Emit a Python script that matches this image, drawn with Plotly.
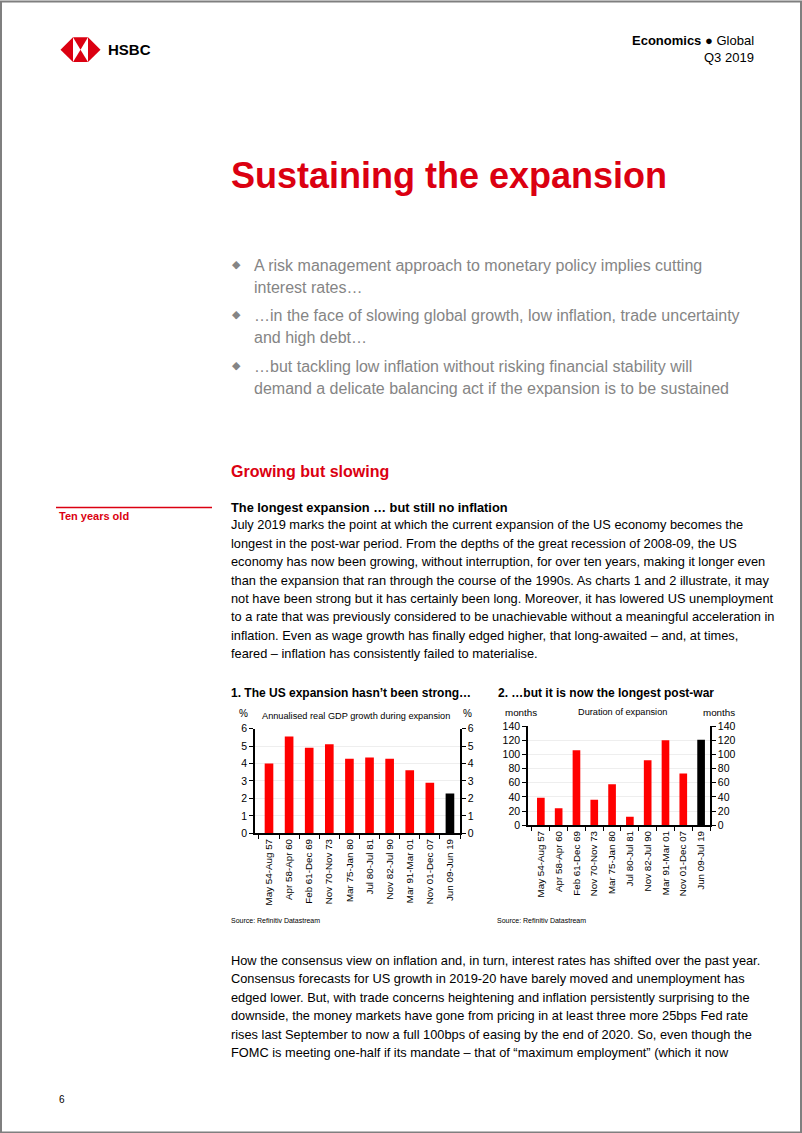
import plotly.graph_objects as go

W = 802
K = 0.9886           # vertical factor observed in the photographed page
H = 1146             # figure height so that the photographed page is 1133 tall
def X(px): return px / W
def Y(py): return 1 - (py / K) / H

# ---------------- data ----------------
periods_1 = ["May 54-Aug 57", "Apr 58-Apr 60", "Feb 61-Dec 69", "Nov 70-Nov 73", "Mar 75-Jan 80",
             "Jul 80-Jul 81", "Nov 82-Jul 90", "Mar 91-Mar 01", "Nov 01-Dec 07", "Jun 09-Jun 19"]
gdp_growth = [4.0, 5.55, 4.9, 5.1, 4.27, 4.35, 4.27, 3.62, 2.9, 2.28]

periods_2 = ["May 54-Aug 57", "Apr 58-Apr 60", "Feb 61-Dec 69", "Nov 70-Nov 73", "Mar 75-Jan 80",
             "Jul 80-Jul 81", "Nov 82-Jul 90", "Mar 91-Mar 01", "Nov 01-Dec 07", "Jun 09-Jul 19"]
duration_months = [39, 24, 106, 36, 58, 12, 92, 120, 73, 121]

ticks_1 = [0, 1, 2, 3, 4, 5, 6]
ticks_2 = [0, 20, 40, 60, 80, 100, 120, 140]

RED = "#ff0000"
HSBC_RED = "#db0011"
colors_1 = [RED] * (len(gdp_growth) - 1) + ["#000000"]
colors_2 = [RED] * (len(duration_months) - 1) + ["#000000"]

ARIAL = "Liberation Sans, Arial, sans-serif"

fig = go.Figure()
fig.add_trace(go.Bar(x=periods_1, y=gdp_growth, marker_color=colors_1, marker_line_width=0,
                     xaxis="x", yaxis="y", hoverinfo="skip"))
fig.add_trace(go.Scatter(x=[periods_1[0]], y=[ticks_1[0]], mode="markers", marker_opacity=0,
                         xaxis="x", yaxis="y2", hoverinfo="skip"))
fig.add_trace(go.Bar(x=periods_2, y=duration_months, marker_color=colors_2, marker_line_width=0,
                     xaxis="x2", yaxis="y3", hoverinfo="skip"))
fig.add_trace(go.Scatter(x=[periods_2[0]], y=[ticks_2[0]], mode="markers", marker_opacity=0,
                         xaxis="x2", yaxis="y4", hoverinfo="skip"))

def xax(domain, anchor):
    return dict(domain=domain, anchor=anchor, type="category", showline=True, linecolor="black",
                linewidth=1.5, ticks="outside", tickson="boundaries", ticklen=4, tickcolor="black",
                tickwidth=1.2, tickangle=-90, tickfont=dict(family=ARIAL, size=9.8, color="black"),
                showgrid=False, zeroline=False, fixedrange=True)

def yax(domain, anchor, rng, tv, side="left", overlay=None, grid=False):
    d = dict(domain=domain, anchor=anchor, range=rng, tickvals=tv, showline=True, linecolor="black",
             linewidth=1.5, ticks="outside", ticklen=4, tickcolor="black", tickwidth=1.2,
             tickfont=dict(family=ARIAL, size=10.5, color="black"), side=side,
             showgrid=grid, gridcolor="#eeeeee", gridwidth=1, zeroline=False, fixedrange=True)
    if overlay:
        d["overlaying"] = overlay
    return d

c1x = [X(255), X(460)]
c1y = [Y(832.5), Y(728)]
c2x = [X(528), X(710)]
c2y = [Y(824.5), Y(725.5)]

fig.update_layout(
    width=W, height=H, margin=dict(l=0, r=0, t=0, b=0),
    paper_bgcolor="white", plot_bgcolor="rgba(0,0,0,0)",
    showlegend=False, bargap=0.57,
    xaxis=xax(c1x, "y"),
    yaxis=yax(c1y, "x", [0, 6], ticks_1, grid=True),
    yaxis2=yax(c1y, "x", [0, 6], ticks_1, side="right", overlay="y"),
    xaxis2=xax(c2x, "y3"),
    yaxis3=yax(c2y, "x2", [0, 140], ticks_2, grid=True),
    yaxis4=yax(c2y, "x2", [0, 140], ticks_2, side="right", overlay="y3"),
)

ann = []
def txt(px, py, text, size=13, color="black", family=ARIAL, xanchor="left", bold=False):
    if bold:
        text = "<b>" + text + "</b>"
    ann.append(dict(x=X(px), y=Y(py), xref="paper", yref="paper", text=text, showarrow=False,
                    xanchor=xanchor, yanchor="middle", font=dict(size=size, color=color, family=family)))

# header
txt(106, 49, "HSBC", size=15, bold=True)
txt(756, 40, "<b>Economics</b> ● Global", size=13, xanchor="right")
txt(756, 57, "Q3 2019", size=13, xanchor="right")

# title
txt(229, 175, "Sustaining the expansion", size=36, color=HSBC_RED, bold=True)

# bullets
GRAY = "#858585"
bullets = [
    ["A risk management approach to monetary policy implies cutting", "interest rates…"],
    ["…in the face of slowing global growth, low inflation, trade uncertainty", "and high debt…"],
    ["…but tackling low inflation without risking financial stability will",
     "demand a delicate balancing act if the expansion is to be sustained"],
]
bullet_y = [265, 315, 366]
for by, lines in zip(bullet_y, bullets):
    txt(236, by - 1, "◆", size=11, color=GRAY, xanchor="center")
    for i, ln in enumerate(lines):
        txt(252, by + i * 21.8, ln, size=16, color=GRAY)

# section
txt(229, 471, "Growing but slowing", size=16, color=HSBC_RED, bold=True)
txt(57, 516, "Ten years old", size=11, color=HSBC_RED, bold=True)

txt(229, 507, "The longest expansion … but still no inflation", size=12.8, bold=True)
body1 = [
    "July 2019 marks the point at which the current expansion of the US economy becomes the",
    "longest in the post-war period. From the depths of the great recession of 2008-09, the US",
    "economy has now been growing, without interruption, for over ten years, making it longer even",
    "than the expansion that ran through the course of the 1990s. As charts 1 and 2 illustrate, it may",
    "not have been strong but it has certainly been long. Moreover, it has lowered US unemployment",
    "to a rate that was previously considered to be unachievable without a meaningful acceleration in",
    "inflation. Even as wage growth has finally edged higher, that long-awaited – and, at times,",
    "feared – inflation has consistently failed to materialise.",
]
for i, ln in enumerate(body1):
    txt(229, 524.5 + i * 18.35, ln, size=12.8)

body2 = [
    "How the consensus view on inflation and, in turn, interest rates has shifted over the past year.",
    "Consensus forecasts for US growth in 2019-20 have barely moved and unemployment has",
    "edged lower. But, with trade concerns heightening and inflation persistently surprising to the",
    "downside, the money markets have gone from pricing in at least three more 25bps Fed rate",
    "rises last September to now a full 100bps of easing by the end of 2020. So, even though the",
    "FOMC is meeting one-half if its mandate – that of “maximum employment” (which it now",
]
for i, ln in enumerate(body2):
    txt(229, 959.5 + i * 18.45, ln, size=12.8)

# chart titles & labels
txt(229, 692, "1. The US expansion hasn’t been strong…", size=12, bold=True)
txt(496, 692, "2. …but it is now the longest post-war", size=12, bold=True)
txt(244, 713, "%", size=10, xanchor="center")
txt(467, 713, "%", size=10, xanchor="center")
txt(356, 715, "Annualised real GDP growth during expansion", size=9.2, xanchor="center")
txt(521, 712, "months", size=9.8, xanchor="center")
txt(719, 712, "months", size=9.8, xanchor="center")
txt(622, 711, "Duration of expansion", size=9.2, xanchor="center")
txt(229, 920, "Source: Refinitiv Datastream", size=7)
txt(495, 920, "Source: Refinitiv Datastream", size=7)

# page number
txt(57, 1098, "6", size=10)

fig.update_layout(annotations=ann)

# shapes: page border (kept fully inside the figure), red rule, HSBC logo
shapes = [
    dict(type="rect", xref="paper", yref="paper",
         x0=1.0 / W, x1=1 - 1.0 / W, y0=1.4 / H, y1=1 - 1.4 / H,
         line=dict(color="#7f7f7f", width=2), fillcolor="rgba(0,0,0,0)", layer="above"),
    dict(type="line", xref="paper", yref="paper", x0=X(56), x1=X(212), y0=Y(507), y1=Y(507),
         line=dict(color=HSBC_RED, width=1.3)),
]
def tri(pts):
    p = "M " + " L ".join(f"{X(a):.5f},{Y(b):.5f}" for a, b in pts) + " Z"
    return dict(type="path", xref="paper", yref="paper", path=p, fillcolor=HSBC_RED,
                line=dict(width=0))
L, R, A, B, T, Bo = 60.5, 100.5, 73, 88, 37.3, 61.9
M = (T + Bo) / 2
C = (A + B) / 2
shapes += [
    tri([(L, M), (A, T), (A, Bo)]),
    tri([(A, T), (B, T), (C, M)]),
    tri([(A, Bo), (B, Bo), (C, M)]),
    tri([(R, M), (B, T), (B, Bo)]),
]
fig.update_layout(shapes=shapes)

page_css = (
    "var de=document.documentElement, b=document.body;"
    "de.style.margin='0';de.style.padding='0';de.style.overflow='hidden';de.style.height='1133px';"
    "b.style.margin='0';b.style.padding='0';b.style.overflow='hidden';b.style.height='1133px';"
    "var g=document.getElementById('{plot_id}');"
    "g.style.position='absolute';g.style.left='0px';g.style.top='-5.7px';"
)
fig.write_html("out.html", config={"displayModeBar": False}, post_script=page_css)
